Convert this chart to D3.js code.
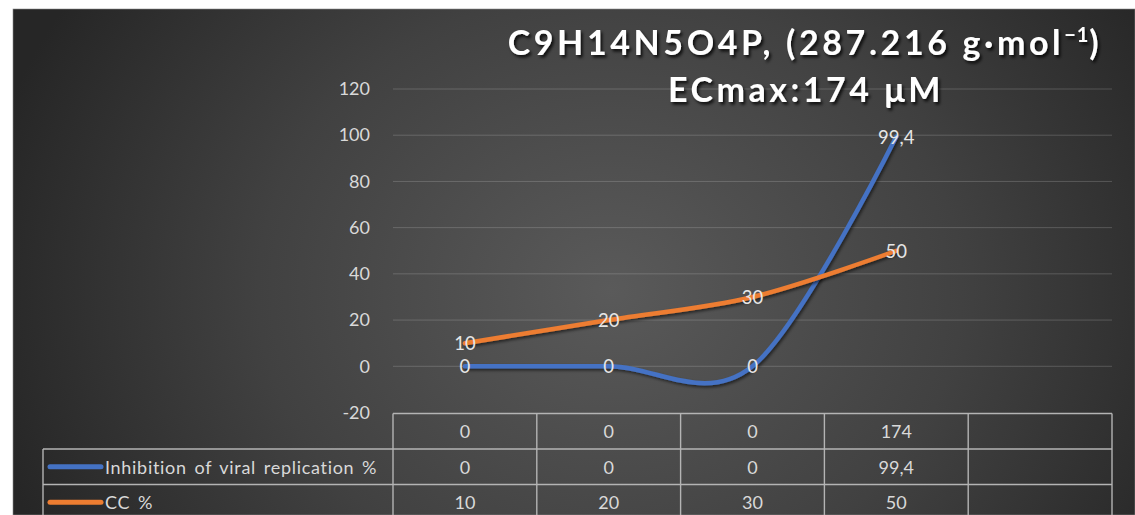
<!DOCTYPE html>
<html>
<head>
<meta charset="utf-8">
<script src="https://cdn.jsdelivr.net/npm/d3@7"></script>
<style>
  html, body { margin: 0; padding: 0; background: #ffffff; }
  svg { display: block; }
  text { font-family: Lato, "Open Sans", sans-serif; }
</style>
</head>
<body>
<svg id="chart" width="1135" height="515"></svg>
<script>
// ---- data ----
const categories = ["0", "0", "0", "174", ""];
const inhibition = [0, 0, 0, 99.4];
const cc = [10, 20, 30, 50];
const yTicks = [-20, 0, 20, 40, 60, 80, 100, 120];
const seriesNames = ["Inhibition of viral replication %", "CC %"];
const seriesColors = ["#4472C4", "#ED7D31"];
const titleLine1 = "C9H14N5O4P, (287.216 g·mol";
const titleSup = "−1";
const titleLine2 = "ECmax:174 μM";

const W = 1135, H = 515;
const svg = d3.select("#chart");
const defs = svg.append("defs");

// background gradient
const grad = defs.append("radialGradient")
  .attr("id", "bg").attr("gradientUnits", "userSpaceOnUse")
  .attr("cx", 610).attr("cy", 290).attr("r", 640)
  .attr("gradientTransform", "translate(610,290) scale(1,0.85) translate(-610,-290)");
grad.append("stop").attr("offset", "0%").attr("stop-color", "#5a5a5a");
grad.append("stop").attr("offset", "55%").attr("stop-color", "#414141");
grad.append("stop").attr("offset", "100%").attr("stop-color", "#262626");

const shadow = defs.append("filter").attr("id", "shadow")
  .attr("x", "-10%").attr("y", "-10%").attr("width", "120%").attr("height", "130%");
shadow.append("feDropShadow").attr("dx", 1.5).attr("dy", 2).attr("stdDeviation", 1.5)
  .attr("flood-color", "#000").attr("flood-opacity", 0.55);

const tshadow = defs.append("filter").attr("id", "tshadow")
  .attr("x", "-5%").attr("y", "-20%").attr("width", "110%").attr("height", "150%");
tshadow.append("feDropShadow").attr("dx", 2).attr("dy", 2.5).attr("stdDeviation", 1.5)
  .attr("flood-color", "#000").attr("flood-opacity", 0.8);

svg.append("rect").attr("x", 13).attr("y", 9).attr("width", W - 13).attr("height", H - 9)
  .attr("fill", "url(#bg)").attr("stroke", "#8a8a8a").attr("stroke-width", 0.6);

// ---- scales ----
const plotLeft = 393, plotRight = 1112;
const x = d3.scaleBand().domain(d3.range(categories.length)).range([plotLeft, plotRight]);
const y = d3.scaleLinear().domain([-20, 120]).range([412.5, 89]);
const cx = i => x(i) + x.bandwidth() / 2;
const fs = 18;

// ---- gridlines and y axis ----
const yAxis = d3.axisLeft(y).tickValues(yTicks).tickSize(0).tickPadding(23)
  .tickFormat(d => String(d));
const yg = svg.append("g").attr("transform", `translate(${plotLeft},0)`).call(yAxis);
yg.select(".domain").remove();
yg.selectAll("text").attr("fill", "#d9d9d9").attr("font-size", fs)
  .attr("font-family", "Lato, sans-serif");

svg.append("g").selectAll("line").data(yTicks.filter(t => t > -20)).join("line")
  .attr("x1", plotLeft).attr("x2", plotRight)
  .attr("y1", d => y(d)).attr("y2", d => y(d))
  .attr("stroke", "#d9d9d9").attr("stroke-opacity", 0.22).attr("stroke-width", 1);

// ---- lines ----
const line = d3.line().x((d, i) => cx(i)).y(d => y(d)).curve(d3.curveCardinal);
[inhibition, cc].forEach((vals, k) => {
  svg.append("path").datum(vals)
    .attr("d", line)
    .attr("fill", "none")
    .attr("stroke", seriesColors[k])
    .attr("stroke-width", 4.5)
    .attr("stroke-linecap", "round")
    .attr("filter", "url(#shadow)");
});

// ---- data labels ----
const fmt = d3.formatLocale({ decimal: ",", thousands: ".", grouping: [3], currency: ["", ""] }).format("~f");
[inhibition, cc].forEach(vals => {
  svg.append("g").selectAll("text").data(vals).join("text")
    .attr("x", (d, i) => cx(i)).attr("y", d => y(d))
    .attr("text-anchor", "middle").attr("dominant-baseline", "central")
    .attr("fill", "#e6e6e6").attr("font-size", 18.5)
    .text(d => fmt(d));
});

// ---- data table ----
const rowTop = 413.5, rowH = 35.5;
const tableStroke = "#b4b4b4";
const tbl = svg.append("g").attr("stroke", tableStroke).attr("stroke-width", 1.4).attr("fill", "none");
// header row top
tbl.append("line").attr("x1", plotLeft).attr("x2", plotRight).attr("y1", rowTop).attr("y2", rowTop);
// series rows
[1, 2].forEach(r => {
  tbl.append("line").attr("x1", 43).attr("x2", plotRight)
    .attr("y1", rowTop + r * rowH).attr("y2", rowTop + r * rowH);
});
// column separators
d3.range(categories.length + 1).forEach(i => {
  const xx = i < categories.length ? x(i) : plotRight;
  tbl.append("line").attr("x1", xx).attr("x2", xx).attr("y1", rowTop).attr("y2", H);
});
tbl.append("line").attr("x1", 43).attr("x2", 43).attr("y1", rowTop + rowH).attr("y2", H);

// header values
svg.append("g").selectAll("text").data(categories).join("text")
  .attr("x", (d, i) => cx(i)).attr("y", rowTop + rowH / 2)
  .attr("text-anchor", "middle").attr("dominant-baseline", "central")
  .attr("fill", "#d9d9d9").attr("font-size", fs).text(d => d);

[inhibition, cc].forEach((vals, k) => {
  const ry = rowTop + (k + 1) * rowH + rowH / 2;
  svg.append("g").selectAll("text").data(vals).join("text")
    .attr("x", (d, i) => cx(i)).attr("y", ry)
    .attr("text-anchor", "middle").attr("dominant-baseline", "central")
    .attr("fill", "#d9d9d9").attr("font-size", fs).text(d => fmt(d));
  svg.append("line").attr("x1", 50).attr("x2", 101).attr("y1", ry).attr("y2", ry)
    .attr("stroke", seriesColors[k]).attr("stroke-width", 5).attr("stroke-linecap", "round");
  svg.append("text").attr("x", 105).attr("y", ry).attr("dominant-baseline", "central")
    .attr("fill", "#d9d9d9").attr("font-size", fs)
    .attr("letter-spacing", 0.7).attr("word-spacing", 2.5)
    .text(seriesNames[k]);
});

// ---- title ----
const title = svg.append("g").attr("filter", "url(#tshadow)")
  .attr("font-family", "Lato, sans-serif").attr("font-weight", "bold")
  .attr("fill", "#ffffff").attr("text-anchor", "middle");
const t1 = title.append("text").attr("x", 805).attr("y", 55).attr("font-size", 34)
  .attr("letter-spacing", 3.6);
t1.append("tspan").text(titleLine1);
t1.append("tspan").attr("font-size", 20).attr("dy", -13).attr("letter-spacing", 1).text(titleSup);
t1.append("tspan").attr("dy", 13).text(")");
title.append("text").attr("x", 806).attr("y", 102).attr("font-size", 34)
  .attr("letter-spacing", 3.5).text(titleLine2);
</script>
</body>
</html>
